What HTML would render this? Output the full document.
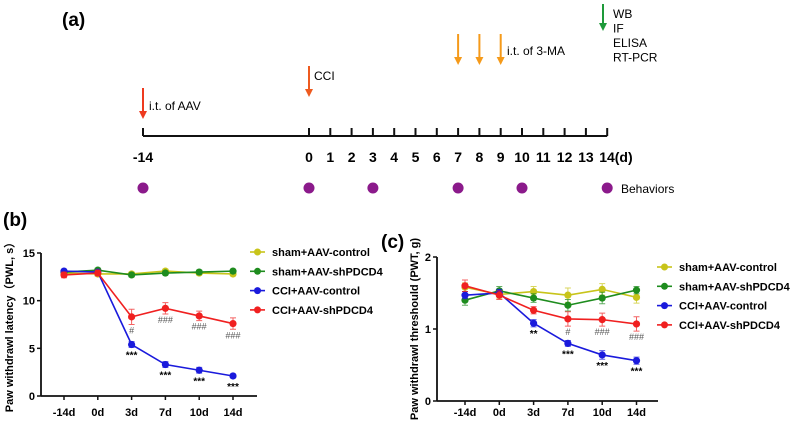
<!DOCTYPE html>
<html><head><meta charset="utf-8"><style>
body{margin:0;background:#fff;}
svg{display:block;font-family:"Liberation Sans",Arial,sans-serif;}
</style></head><body>
<svg id="fig" width="792" height="423" viewBox="0 0 792 423">
<g id="timeline"></g>
<g id="chartB"></g>
<g id="chartC"></g>
</svg>
<script>
const NS="http://www.w3.org/2000/svg";
function mk(parent,tag,attrs,text){const e=document.createElementNS(NS,tag);for(const k in attrs)e.setAttribute(k,attrs[k]);if(text!==undefined)e.textContent=text;parent.appendChild(e);return e;}

// ---------- Timeline data ----------
const tlDays=[-14,0,1,2,3,4,5,6,7,8,9,10,11,12,13,14];
const tlBehaviorDays=[-14,0,3,7,10,14];
const tlOrangeDays=[7,8,9];

// ---------- Chart data ----------
const categories=["-14d","0d","3d","7d","10d","14d"];
const seriesNames=["sham+AAV-control","sham+AAV-shPDCD4","CCI+AAV-control","CCI+AAV-shPDCD4"];
const seriesColors=["#c8c41a","#1e8c1e","#1a1adc","#f02020"];
const pwlSham=[12.9,12.8,12.8,13.1,12.9,12.8];
const pwlShamSh=[13.0,13.2,12.7,12.9,13.0,13.1];
const pwlCci=[13.1,13.0,5.4,3.3,2.7,2.1];
const pwlCciSh=[12.7,12.9,8.3,9.2,8.4,7.6];
const pwlErr=[[0.2,0.2,0.2,0.2,0.2,0.2],[0.2,0.2,0.2,0.2,0.2,0.2],[0.2,0.2,0.3,0.3,0.3,0.2],[0.3,0.3,0.8,0.6,0.5,0.6]];
const pwlTicks=[0,5,10,15];
const pwtSham=[1.58,1.48,1.52,1.47,1.55,1.44];
const pwtShamSh=[1.40,1.53,1.43,1.33,1.43,1.54];
const pwtCci=[1.47,1.50,1.08,0.80,0.64,0.56];
const pwtCciSh=[1.60,1.47,1.26,1.14,1.13,1.07];
const pwtErr=[[0.06,0.06,0.07,0.1,0.08,0.08],[0.07,0.06,0.06,0.08,0.08,0.05],[0.05,0.05,0.05,0.04,0.06,0.05],[0.08,0.06,0.05,0.1,0.09,0.1]];
const pwtTicks=[0,1,2];
const pwlStars=["","","***","***","***","***"];
const pwlHash=["","","#","###","###","###"];
const pwtStars=["","","**","***","***","***"];
const pwtHash=["","","","#","###","###"];

// ---------- Timeline ----------
(function(){
 const g=document.getElementById('timeline');
 const x=d=>d<0?143:309+d*21.3;
 let t=mk(g,'text',{x:62,y:26,'font-size':19,'font-weight':'bold'},'(a)');
 
 let ax=mk(g,'line',{x1:x(-14),y1:136,x2:x(14),y2:136,stroke:'#111','stroke-width':2});
 
 tlDays.forEach(d=>{
  const tk=mk(g,'line',{x1:x(d),y1:128,x2:x(d),y2:136,stroke:'#111','stroke-width':2});
  
  const lb=mk(g,'text',{x:x(d),y:162,'font-size':14,'font-weight':'bold','text-anchor':'middle'},d===14?'14(d)':String(d));
  
  if(d===14){lb.setAttribute('text-anchor','start');lb.setAttribute('x',x(d)-8);}
 });
 tlBehaviorDays.forEach(d=>{
  const c=mk(g,'circle',{cx:x(d),cy:188,r:5.5,fill:'#8b1a8b'});
  
 });
 t=mk(g,'text',{x:621,y:193,'font-size':12},'Behaviors');
 function arrow(xx,y1,y2,col,name){const a=mk(g,'g',{});
  mk(a,'line',{x1:xx,y1:y1,x2:xx,y2:y2-6,stroke:col,'stroke-width':2});
  mk(a,'polygon',{points:`${xx-4},${y2-8} ${xx+4},${y2-8} ${xx},${y2}`,fill:col});}
 arrow(x(-14),88,119,'#ee3a1f','aav-arrow');
 t=mk(g,'text',{x:149,y:110,'font-size':12},'i.t. of AAV');
 arrow(x(0),66,97,'#ee5a1f','cci-arrow');
 t=mk(g,'text',{x:314,y:80,'font-size':12},'CCI');
 tlOrangeDays.forEach(d=>arrow(x(d),34,65,'#f59a1a','3ma-arrow'));
 t=mk(g,'text',{x:507,y:55,'font-size':12},'i.t. of 3-MA');
 arrow(603,4,31,'#1e9a3a','harvest-arrow');
 ['WB','IF','ELISA','RT-PCR'].forEach((s,i)=>{const e=mk(g,'text',{x:613,y:18+i*14.5,'font-size':12},s);});
})();

// ---------- Line charts ----------
function chart(id,o){
 const g=document.getElementById(id);
 const xs=i=>o.x0+i*o.dx;
 const ys=v=>o.yb-(v-o.ymin)/(o.ymax-o.ymin)*(o.yb-o.yt);
 let e=mk(g,'text',{x:o.labX,y:o.labY,'font-size':19,'font-weight':'bold'},o.label);
 
 e=mk(g,'line',{x1:o.ax,y1:o.yt,x2:o.ax,y2:o.yb,stroke:'#111','stroke-width':1.8});
 
 e=mk(g,'line',{x1:o.ax,y1:o.yb,x2:o.axEnd,y2:o.yb,stroke:'#111','stroke-width':1.8});
 
 o.ticks.forEach(v=>{
  e=mk(g,'line',{x1:o.ax-4,y1:ys(v),x2:o.ax,y2:ys(v),stroke:'#111','stroke-width':1.5});
  
  e=mk(g,'text',{x:o.ax-6,y:ys(v)+4,'font-size':11,'font-weight':'bold','text-anchor':'end'},String(v));
  
 });
 categories.forEach((c,i)=>{
  e=mk(g,'line',{x1:xs(i),y1:o.yb,x2:xs(i),y2:o.yb+4,stroke:'#111','stroke-width':1.5});
  
  e=mk(g,'text',{x:xs(i),y:416,'font-size':11,'font-weight':'bold','text-anchor':'middle'},c);
  
 });
 e=mk(g,'text',{x:0,y:0,'font-size':11,'font-weight':'bold','text-anchor':'middle',transform:`translate(${o.ytX},${(o.yt+o.yb)/2}) rotate(-90)`},o.ytitle);
 
 o.series.forEach((s,k)=>{
  const sg=mk(g,'g',{});
  const col=seriesColors[k];
  const p=mk(sg,'polyline',{points:s.map((v,i)=>xs(i)+','+ys(v)).join(' '),fill:'none',stroke:col,'stroke-width':1.6});
  
  s.forEach((v,i)=>{
   const er=o.err[k][i];
   const eb=mk(sg,'path',{d:`M${xs(i)},${ys(v+er)}V${ys(v-er)}M${xs(i)-3},${ys(v+er)}h6M${xs(i)-3},${ys(v-er)}h6`,stroke:col,'stroke-width':1,fill:'none',opacity:0.7});
   
   const c=mk(sg,'circle',{cx:xs(i),cy:ys(v),r:3.6,fill:col});
   
  });
 });
 categories.forEach((c,i)=>{
  if(o.stars[i]){e=mk(g,'text',{x:xs(i),y:ys(o.series[2][i])+14,'font-size':10,'font-weight':'bold','text-anchor':'middle'},o.stars[i]);
   }
  if(o.hash[i]){e=mk(g,'text',{x:xs(i),y:ys(o.series[3][i]-o.err[3][i])+9,'font-size':9,'fill':'#555','text-anchor':'middle'},o.hash[i]);
   }
 });
 seriesNames.forEach((n,k)=>{
  const lg=mk(g,'g',{});
  const y=o.legY+k*19.3;
  mk(lg,'line',{x1:o.legX,y1:y,x2:o.legX+15,y2:y,stroke:seriesColors[k],'stroke-width':1.6});
  mk(lg,'circle',{cx:o.legX+7.5,cy:y,r:3.5,fill:seriesColors[k]});
  mk(lg,'text',{x:o.legX+22,y:y+4,'font-size':11,'font-weight':'bold'},n);
 });
}
chart('chartB',{label:'(b)',labX:3,labY:226,x0:64,dx:33.8,ax:41,axEnd:257,yt:253,yb:396,ymin:0,ymax:15,ticks:pwlTicks,
 ytitle:'Paw withdrawl latency（PWL, s）',ytX:13,series:[pwlSham,pwlShamSh,pwlCci,pwlCciSh],err:pwlErr,stars:pwlStars,hash:pwlHash,legX:250,legY:252});
chart('chartC',{label:'(c)',labX:381,labY:248,x0:465,dx:34.3,ax:437,axEnd:658,yt:257,yb:401,ymin:0,ymax:2,ticks:pwtTicks,
 ytitle:'Paw withdrawl threshould (PWT, g)',ytX:418,series:[pwtSham,pwtShamSh,pwtCci,pwtCciSh],err:pwtErr,stars:pwtStars,hash:pwtHash,legX:657,legY:267});
</script>
</body></html>
